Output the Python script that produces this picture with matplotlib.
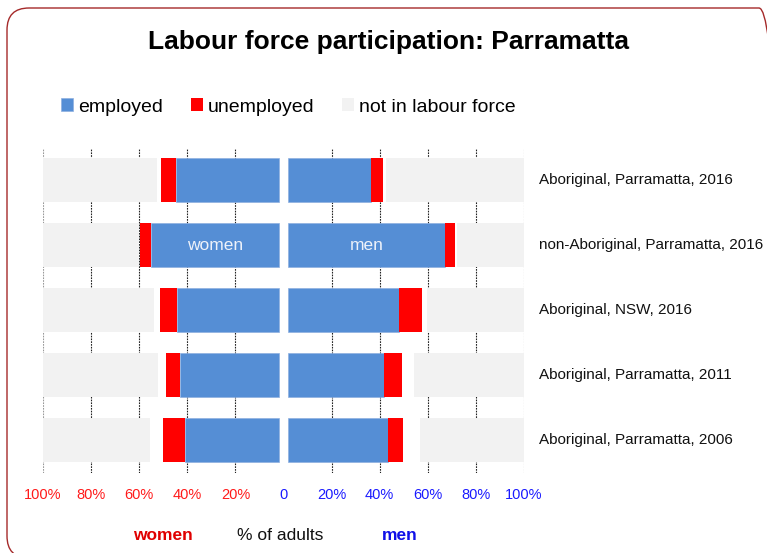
import numpy as np
import matplotlib
matplotlib.use('Agg')
import matplotlib.pyplot as plt
from matplotlib.patches import FancyBboxPatch
from matplotlib.transforms import blended_transform_factory

plt.rcParams['font.family'] = ['Liberation Sans', 'DejaVu Sans']

# data (% of adults)
groups = ['Aboriginal, Parramatta, 2016',
          'non-Aboriginal, Parramatta, 2016',
          'Aboriginal, NSW, 2016',
          'Aboriginal, Parramatta, 2011',
          'Aboriginal, Parramatta, 2006']
women_employed = [42.8, 53.2, 42.4, 41.3, 39.1]
women_unemployed = [6.4, 4.6, 7.2, 5.7, 9.1]
women_nilf = [47.4, 40.0, 46.0, 47.9, 44.5]
men_employed = [34.4, 65.1, 46.2, 40.0, 41.6]
men_unemployed = [5.0, 4.4, 9.4, 7.2, 6.1]
men_nilf = [57.2, 27.7, 40.2, 45.7, 43.4]
tick_values = [-100, -80, -60, -40, -20, 0, 20, 40, 60, 80, 100]
tick_labels = ['100%', '80%', '60%', '40%', '20%', '0', '20%', '40%', '60%', '80%', '100%']

BLUE = '#558ed5'
RED = '#ff0000'
GREY = '#f2f2f2'
gap = 1.9     # white gap between the women and men halves
h = 0.667

fig = plt.figure(figsize=(7.67, 5.53), dpi=100)
W, H = 767, 553
ax = fig.add_axes([43 / W, 1 - 472.5 / H, 481 / W, 325 / H])

y = np.arange(len(groups))
we = np.array(women_employed)
wu = np.array(women_unemployed)
me = np.array(men_employed)
mu = np.array(men_unemployed)

# grid lines behind the bars
for t in tick_values:
    if t == 0:
        continue
    c = '#999999' if abs(t) == 100 else '#222222'
    ax.axvline(t, color=c, lw=0.8, ls=(0, (1.5, 1)), zorder=0)

b_emp = ax.barh(y, -we, left=-gap, height=h, color=BLUE, edgecolor='#8fb0e0', lw=0.5,
                label='employed', zorder=2)
b_un = ax.barh(y, -wu, left=-gap - we, height=h, color=RED, label='unemployed', zorder=2)
b_nilf = ax.barh(y, women_nilf, left=-100, height=h, color=GREY, label='not in labour force',
                 zorder=2)
m_emp = ax.barh(y, me, left=gap, height=h, color=BLUE, edgecolor='#8fb0e0', lw=0.5, zorder=2)
ax.barh(y, mu, left=gap + me, height=h, color=RED, zorder=2)
ax.barh(y, -np.array(men_nilf), left=100, height=h, color=GREY, zorder=2)

# "women" / "men" inside the second row
ax.bar_label(b_emp, labels=['', 'women', '', '', ''], label_type='center',
             color='#eef2fa', fontsize=12.5, zorder=3)
ax.bar_label(m_emp, labels=['', 'men', '', '', ''], label_type='center',
             color='#eef2fa', fontsize=12.5, zorder=3)

ax.set_xlim(-100, 100)
ax.set_ylim(len(groups) - 0.5, -0.5)
ax.set_xticks(tick_values)
ax.set_xticklabels(tick_labels, fontsize=10.5)
for lab, v in zip(ax.get_xticklabels(), tick_values):
    lab.set_color('#ff1a1a' if v < 0 else '#1a1aff')
ax.tick_params(axis='x', length=0, pad=11)
ax.set_yticks([])
for s in ax.spines.values():
    s.set_visible(False)

# group labels on the right
tr = blended_transform_factory(fig.transFigure, ax.transData)
for yi, g in zip(y, groups):
    ax.text(539 / W, yi, g, transform=tr, fontsize=11, va='center', ha='left',
            color='#111111')

fig.text(388 / W, 1 - 42 / H, 'Labour force participation: Parramatta', fontsize=19,
         fontweight='bold', ha='center', va='center')

fig.legend(handles=[b_emp, b_un, b_nilf], loc='center left',
           bbox_to_anchor=(61 / W, 1 - 107 / H), ncol=3, frameon=False, fontsize=14,
           handlelength=0.62, handleheight=0.62, handletextpad=0.26, columnspacing=1.42,
           borderpad=0, borderaxespad=0)

fig.text(163 / W, 1 - 536 / H, 'women', color='#e00000', fontsize=12.5, fontweight='bold',
         ha='center', va='center')
fig.text(280 / W, 1 - 536 / H, '% of adults', color='#111111', fontsize=12.5,
         ha='center', va='center')
fig.text(400 / W, 1 - 536 / H, 'men', color='#1010e8', fontsize=12.5, fontweight='bold',
         ha='center', va='center')

# rounded frame, partly outside the image
frame = FancyBboxPatch((0.07, -0.05), 7.74, 5.5, boxstyle='round,pad=0,rounding_size=0.22',
                       transform=fig.dpi_scale_trans, fill=False, edgecolor='#a52a2a', lw=1.0)
fig.add_artist(frame)

fig.savefig('out.png', dpi=100)
